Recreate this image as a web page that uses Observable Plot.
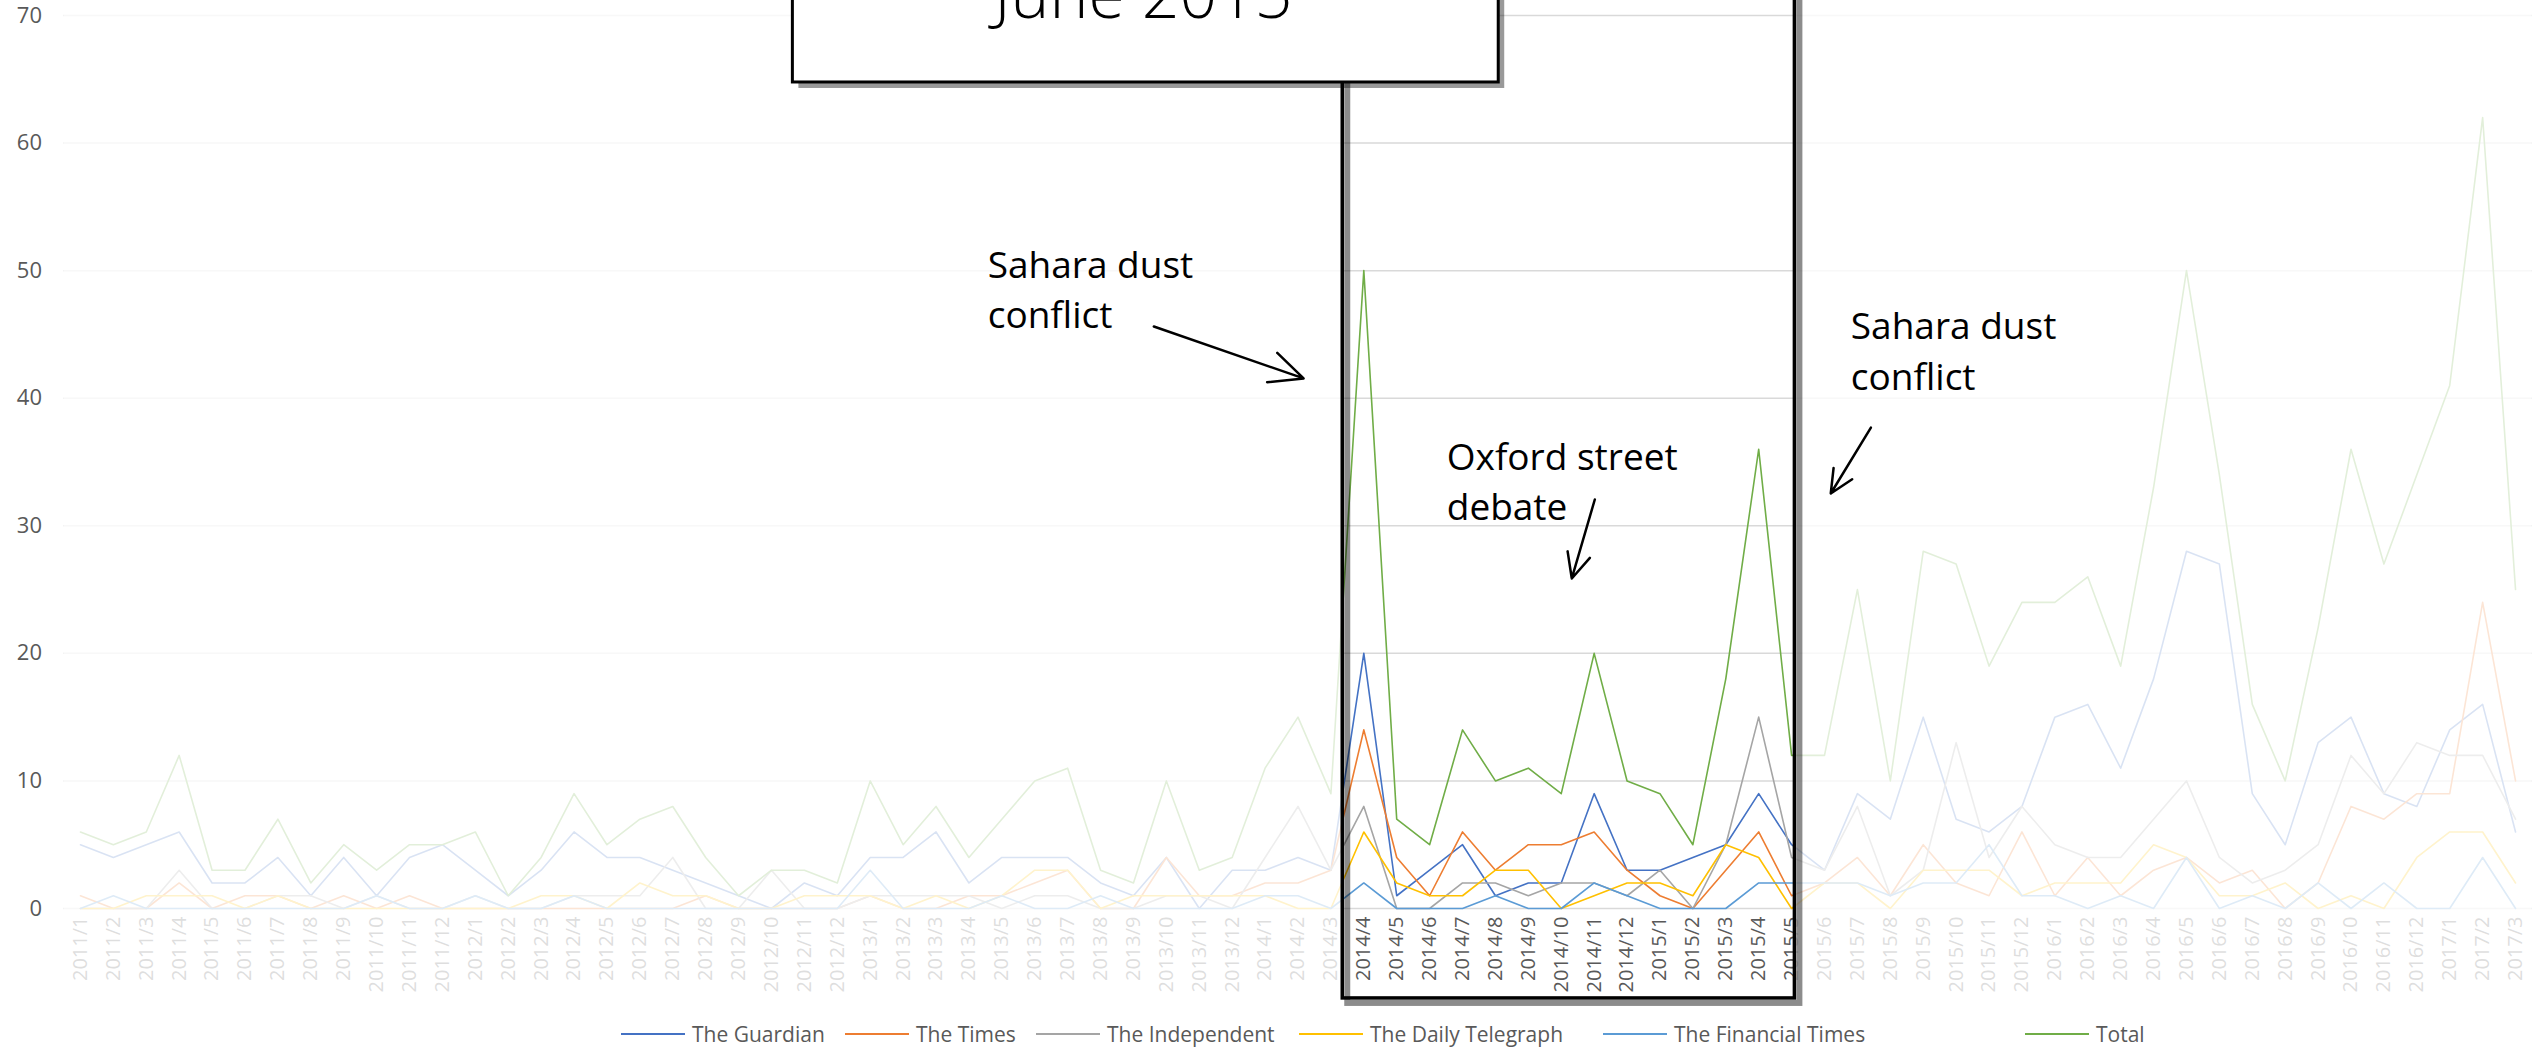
<!DOCTYPE html>
<html><head><meta charset="utf-8">
<script src="https://cdn.jsdelivr.net/npm/d3@7"></script>
<script src="https://cdn.jsdelivr.net/npm/@observablehq/plot@0.6"></script>
<style>
body{margin:0;background:#fff;width:2534px;height:1051px;overflow:hidden;font-family:"Open Sans",sans-serif;}
#chart{position:absolute;left:0;top:0;}
g[aria-label="shadow"]{filter:blur(3px);}
#legend{position:absolute;left:0;top:1010px;width:2534px;height:41px;}
.item{position:absolute;top:0;height:48px;display:flex;align-items:center;font-size:21px;color:#595959;white-space:nowrap;}
.sw{display:inline-block;width:64px;height:2px;margin-right:7px;}
</style></head><body>
<div id="chart"></div><div id="legend"></div>
<script>
const months = ["2011/1","2011/2","2011/3","2011/4","2011/5","2011/6","2011/7","2011/8","2011/9","2011/10","2011/11","2011/12",
"2012/1","2012/2","2012/3","2012/4","2012/5","2012/6","2012/7","2012/8","2012/9","2012/10","2012/11","2012/12",
"2013/1","2013/2","2013/3","2013/4","2013/5","2013/6","2013/7","2013/8","2013/9","2013/10","2013/11","2013/12",
"2014/1","2014/2","2014/3","2014/4","2014/5","2014/6","2014/7","2014/8","2014/9","2014/10","2014/11","2014/12",
"2015/1","2015/2","2015/3","2015/4","2015/5","2015/6","2015/7","2015/8","2015/9","2015/10","2015/11","2015/12",
"2016/1","2016/2","2016/3","2016/4","2016/5","2016/6","2016/7","2016/8","2016/9","2016/10","2016/11","2016/12",
"2017/1","2017/2","2017/3"];

const guardian = [5,4,5,6,2,2,4,1,4,1,4,5, 3,1,3,6,4,4,3,2,1,0,2,1, 4,4,6,2,4,4,4,2,1,4,0,3, 3,4,3,
  20,1,3,5,1,2,2,9,3,3,4,5,9,5, 3,9,7,15,7,6,8,15,16,11,18,28,27,9,5,13,15,9,8,14,16,6];
const times = [1,0,0,2,0,1,1,0,1,0,1,0, 0,0,0,0,0,0,0,1,0,0,0,0, 1,0,0,1,1,2,3,0,0,4,1,1, 2,2,3,
  14,4,1,6,3,5,5,6,3,1,0,3,6,1, 2,4,1,5,2,1,6,1,4,1,3,4,2,3,0,2,8,7,9,9,24,10];
const independent = [0,0,0,3,0,0,1,1,0,1,0,0, 1,0,0,1,1,1,4,0,0,3,0,0, 1,1,1,1,0,1,1,0,0,1,1,0, 4,8,3,
  8,0,0,2,2,1,2,2,1,3,0,5,15,4, 3,8,1,3,13,4,8,5,4,4,7,10,4,2,3,5,12,9,13,12,12,7];
const telegraph = [0,0,1,1,1,0,1,0,0,0,0,0, 0,0,1,1,0,2,1,1,0,0,1,1, 1,0,1,0,1,3,3,0,1,1,1,1, 1,0,0,
  6,2,1,1,3,3,0,1,2,2,1,5,4,0, 2,2,0,3,3,3,1,2,2,2,5,4,1,1,2,0,1,0,4,6,6,2];
const financialTimes = [0,1,0,0,0,0,0,0,0,1,0,0, 1,0,0,1,0,0,0,0,0,0,0,0, 3,0,0,0,1,0,0,1,0,0,0,0, 1,1,0,
  2,0,0,0,1,0,0,2,1,0,0,0,2,2, 2,2,1,2,2,5,1,1,0,1,0,4,0,1,0,2,0,2,0,0,4,0];
const total = [6,5,6,12,3,3,7,2,5,3,5,5, 6,1,4,9,5,7,8,4,1,3,3,2, 10,5,8,4,7,10,11,3,2,10,3,4, 11,15,9,
  50,7,5,14,10,11,9,20,10,9,5,18,36,12, 12,25,10,28,27,19,24,24,26,19,33,50,34,16,10,22,36,27,34,41,62,25];

const seriesNames = ["The Guardian","The Times","The Independent","The Daily Telegraph","The Financial Times","Total"];
const seriesColors = ["#4472C4","#ED7D31","#A5A5A5","#FFC000","#5B9BD5","#70AD47"];
const seriesValues = [guardian, times, independent, telegraph, financialTimes, total];
const yTicks = [0,10,20,30,40,50,60,70];

const highlightFrom = "2014/4", highlightTo = "2015/5";
const boxLabel = "June 2015";
const notes = [
  {x: 27.57, y: 49.4, text: "Sahara dust"}, {x: 27.57, y: 45.47, text: "conflict"},
  {x: 41.52, y: 34.41, text: "Oxford street"}, {x: 41.52, y: 30.49, text: "debate"},
  {x: 53.80, y: 44.68, text: "Sahara dust"}, {x: 53.80, y: 40.68, text: "conflict"}
];
const arrows = [
  {x1: 32.62, y1: 45.62, x2: 37.17, y2: 41.55},
  {x1: 46.02, y1: 32.06, x2: 45.32, y2: 25.87},
  {x1: 54.41, y1: 37.7, x2: 53.19, y2: 32.53}
];

const rows = [];
seriesNames.forEach((s, k) => seriesValues[k].forEach((v, i) => rows.push({series: s, i, month: months[i], value: v})));

const n = months.length;
const bL = months.indexOf(highlightFrom) - 0.64;
const bR = months.indexOf(highlightTo) + 0.1;
const xMin = -0.5, xMax = n - 0.5;
const boxBottom = -7.05, boxTop = 76;
const veil = [{x1: xMin, x2: bL, y1: -7.4, y2: boxTop}, {x1: bR, x2: xMax, y1: -7.4, y2: boxTop}];
const hbox = [{x1: bL, x2: bR, y1: boxBottom, y2: boxTop}];
const jbox = [{x1: 21.65, x2: 43.1, y1: 64.75, y2: 80, x: 32.3, y: 69.77, text: boxLabel}];

const chart = Plot.plot({
  width: 2534, height: 1010,
  marginTop: 15, marginBottom: 102, marginLeft: 63.5, marginRight: 2.5,
  style: {fontFamily: '"Open Sans", sans-serif', background: "white", overflow: "hidden"},
  x: {type: "linear", domain: [xMin, xMax]},
  y: {domain: [0, 70]},
  color: {domain: seriesNames, range: seriesColors},
  marks: [
    Plot.gridY({ticks: yTicks, stroke: "#d9d9d9", strokeOpacity: 1, strokeWidth: 1.5}),
    Plot.axisY({ticks: yTicks, tickSize: 0, tickPadding: 22, fontSize: 22, color: "#595959", label: null}),
    Plot.axisX({ticks: d3.range(n), tickFormat: i => months[i], tickRotate: -90, tickSize: 0, tickPadding: 8, fontSize: 20, color: "#595959", label: null}),
    Plot.line(rows, {x: "i", y: "value", z: "series", stroke: "series", strokeWidth: 1.6}),
    Plot.rect(veil, {x1: "x1", x2: "x2", y1: "y1", y2: "y2", fill: "white", fillOpacity: 0.8}),
    Plot.rect(hbox, {x1: "x1", x2: "x2", y1: "y1", y2: "y2", fill: "none", stroke: "#000", strokeOpacity: 0.45, strokeWidth: 6, dx: 5, dy: 5, ariaLabel: "shadow"}),
    Plot.rect(hbox, {x1: "x1", x2: "x2", y1: "y1", y2: "y2", fill: "none", stroke: "black", strokeWidth: 3.5}),
    Plot.rect(jbox, {x1: "x1", x2: "x2", y1: "y1", y2: "y2", fill: "#000", fillOpacity: 0.4, dx: 6, dy: 6, ariaLabel: "shadow"}),
    Plot.rect(jbox, {x1: "x1", x2: "x2", y1: "y1", y2: "y2", fill: "white", stroke: "black", strokeWidth: 3}),
    Plot.text(jbox, {x: "x", y: "y", text: "text", fontSize: 66, fontWeight: 300, fill: "black", lineAnchor: "bottom", textAnchor: "middle"}),
    Plot.text(notes, {x: "x", y: "y", text: "text", fontSize: 37, fill: "black", lineAnchor: "bottom", textAnchor: "start"}),
    Plot.arrow(arrows, {x1: "x1", y1: "y1", x2: "x2", y2: "y2", stroke: "black", strokeWidth: 2.5, headLength: 22, headAngle: 50})
  ]
});
document.getElementById("chart").append(chart);

const legendText = [692, 916, 1107, 1370, 1674, 2096];
const legend = document.getElementById("legend");
seriesNames.forEach((s, k) => {
  const it = document.createElement("div");
  it.className = "item";
  it.style.left = (legendText[k] - 71) + "px";
  it.innerHTML = `<span class="sw" style="background:${seriesColors[k]}"></span><span>${s}</span>`;
  legend.append(it);
});
</script></body></html>
